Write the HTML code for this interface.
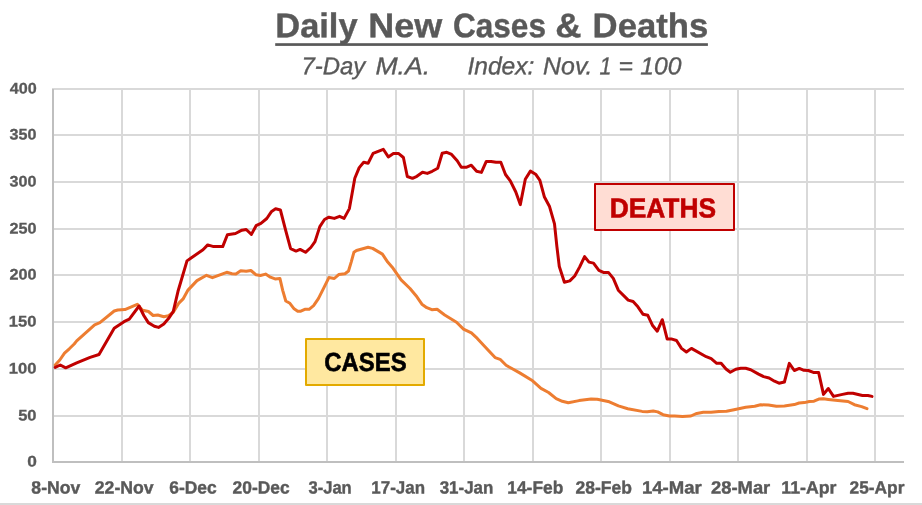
<!DOCTYPE html>
<html><head><meta charset="utf-8"><title>Daily New Cases &amp; Deaths</title>
<style>
html,body{margin:0;padding:0;background:#fff;}
body{width:922px;height:505px;overflow:hidden;position:relative;font-family:"Liberation Sans",sans-serif;}
svg{position:absolute;left:0;top:0;display:block;will-change:transform;}
text{font-family:"Liberation Sans",sans-serif;}
</style></head><body>
<svg width="922" height="505" viewBox="0 0 922 505">
<rect x="0" y="0" width="922" height="505" fill="#ffffff"/>
<rect x="0" y="503" width="922" height="2" fill="#d9d9d9"/>
<g fill="#d9d9d9" shape-rendering="crispEdges">
<rect x="52" y="88" width="852" height="2"/>
<rect x="52" y="134" width="852" height="2"/>
<rect x="52" y="181" width="852" height="2"/>
<rect x="52" y="228" width="852" height="2"/>
<rect x="52" y="274" width="852" height="2"/>
<rect x="52" y="321" width="852" height="2"/>
<rect x="52" y="368" width="852" height="2"/>
<rect x="52" y="415" width="852" height="2"/>
<rect x="121" y="88" width="2" height="374"/>
<rect x="189" y="88" width="2" height="374"/>
<rect x="258" y="88" width="2" height="374"/>
<rect x="326" y="88" width="2" height="374"/>
<rect x="395" y="88" width="2" height="374"/>
<rect x="463" y="88" width="2" height="374"/>
<rect x="532" y="88" width="2" height="374"/>
<rect x="600" y="88" width="2" height="374"/>
<rect x="669" y="88" width="2" height="374"/>
<rect x="737" y="88" width="2" height="374"/>
<rect x="806" y="88" width="2" height="374"/>
<rect x="874" y="88" width="2" height="374"/>
</g>
<g fill="#bfbfbf" shape-rendering="crispEdges">
<rect x="52" y="89" width="2" height="374"/>
<rect x="52" y="461" width="852" height="2"/>
</g>
<rect x="275.2" y="43.2" width="432.7" height="2.7" fill="#595959"/>
<text transform="rotate(0.05 275.29 37.24)" x="275.29" y="37.24" font-size="34.09px" font-weight="bold" font-style="normal" fill="#595959" stroke="#595959" stroke-width="0.4" textLength="82.25" lengthAdjust="spacingAndGlyphs">Daily</text>
<text transform="rotate(0.05 368.35 37.24)" x="368.35" y="37.24" font-size="34.09px" font-weight="bold" font-style="normal" fill="#595959" stroke="#595959" stroke-width="0.4" textLength="73.92" lengthAdjust="spacingAndGlyphs">New</text>
<text transform="rotate(0.05 453.02 37.24)" x="453.02" y="37.24" font-size="34.09px" font-weight="bold" font-style="normal" fill="#595959" stroke="#595959" stroke-width="0.4" textLength="92.93" lengthAdjust="spacingAndGlyphs">Cases</text>
<text transform="rotate(0.05 555.24 37.24)" x="555.24" y="37.24" font-size="34.09px" font-weight="bold" font-style="normal" fill="#595959" stroke="#595959" stroke-width="0.4" textLength="26.22" lengthAdjust="spacingAndGlyphs">&amp;</text>
<text transform="rotate(0.05 592.64 37.24)" x="592.64" y="37.24" font-size="34.09px" font-weight="bold" font-style="normal" fill="#595959" stroke="#595959" stroke-width="0.4" textLength="115.67" lengthAdjust="spacingAndGlyphs">Deaths</text>
<text transform="rotate(0.05 301.47 74.23)" x="301.47" y="74.23" font-size="24.49px" font-weight="normal" font-style="italic" fill="#595959" stroke="#595959" stroke-width="0.35" textLength="63.78" lengthAdjust="spacingAndGlyphs">7-Day</text>
<text transform="rotate(0.05 375.41 74.23)" x="375.41" y="74.23" font-size="24.49px" font-weight="normal" font-style="italic" fill="#595959" stroke="#595959" stroke-width="0.35" textLength="54.77" lengthAdjust="spacingAndGlyphs">M.A.</text>
<text transform="rotate(0.05 467.40 74.23)" x="467.40" y="74.23" font-size="24.49px" font-weight="normal" font-style="italic" fill="#595959" stroke="#595959" stroke-width="0.35" textLength="67.01" lengthAdjust="spacingAndGlyphs">Index:</text>
<text transform="rotate(0.05 543.12 74.23)" x="543.12" y="74.23" font-size="24.49px" font-weight="normal" font-style="italic" fill="#595959" stroke="#595959" stroke-width="0.35" textLength="49.29" lengthAdjust="spacingAndGlyphs">Nov.</text>
<text transform="rotate(0.05 599.52 74.23)" x="599.52" y="74.23" font-size="24.49px" font-weight="normal" font-style="italic" fill="#595959" stroke="#595959" stroke-width="0.35" textLength="11.97" lengthAdjust="spacingAndGlyphs">1</text>
<text transform="rotate(0.05 618.47 74.23)" x="618.47" y="74.23" font-size="24.49px" font-weight="normal" font-style="italic" fill="#595959" stroke="#595959" stroke-width="0.35" textLength="14.43" lengthAdjust="spacingAndGlyphs">=</text>
<text transform="rotate(0.05 640.21 74.23)" x="640.21" y="74.23" font-size="24.49px" font-weight="normal" font-style="italic" fill="#595959" stroke="#595959" stroke-width="0.35" textLength="41.17" lengthAdjust="spacingAndGlyphs">100</text>
<text transform="rotate(0.05 9.83 93.60)" x="9.83" y="93.60" font-size="15.28px" font-weight="bold" font-style="normal" fill="#595959" stroke="#595959" stroke-width="0.3" textLength="26.97" lengthAdjust="spacingAndGlyphs">400</text>
<text transform="rotate(0.05 9.59 139.60)" x="9.59" y="139.60" font-size="15.28px" font-weight="bold" font-style="normal" fill="#595959" stroke="#595959" stroke-width="0.3" textLength="26.92" lengthAdjust="spacingAndGlyphs">350</text>
<text transform="rotate(0.05 9.59 186.60)" x="9.59" y="186.60" font-size="15.28px" font-weight="bold" font-style="normal" fill="#595959" stroke="#595959" stroke-width="0.3" textLength="26.92" lengthAdjust="spacingAndGlyphs">300</text>
<text transform="rotate(0.05 9.57 233.60)" x="9.57" y="233.60" font-size="15.28px" font-weight="bold" font-style="normal" fill="#595959" stroke="#595959" stroke-width="0.3" textLength="27.07" lengthAdjust="spacingAndGlyphs">250</text>
<text transform="rotate(0.05 9.57 279.60)" x="9.57" y="279.60" font-size="15.28px" font-weight="bold" font-style="normal" fill="#595959" stroke="#595959" stroke-width="0.3" textLength="27.07" lengthAdjust="spacingAndGlyphs">200</text>
<text transform="rotate(0.05 8.87 326.60)" x="8.87" y="326.60" font-size="15.28px" font-weight="bold" font-style="normal" fill="#595959" stroke="#595959" stroke-width="0.3" textLength="27.69" lengthAdjust="spacingAndGlyphs">150</text>
<text transform="rotate(0.05 8.87 373.60)" x="8.87" y="373.60" font-size="15.28px" font-weight="bold" font-style="normal" fill="#595959" stroke="#595959" stroke-width="0.3" textLength="27.69" lengthAdjust="spacingAndGlyphs">100</text>
<text transform="rotate(0.05 18.20 420.60)" x="18.20" y="420.60" font-size="15.28px" font-weight="bold" font-style="normal" fill="#595959" stroke="#595959" stroke-width="0.3" textLength="18.37" lengthAdjust="spacingAndGlyphs">50</text>
<text transform="rotate(0.05 27.19 466.60)" x="27.19" y="466.60" font-size="15.28px" font-weight="bold" font-style="normal" fill="#595959" stroke="#595959" stroke-width="0.3" textLength="9.62" lengthAdjust="spacingAndGlyphs">0</text>
<text transform="rotate(0.05 31.37 493.43)" x="31.37" y="493.43" font-size="17.7px" font-weight="bold" font-style="normal" fill="#595959" stroke="#595959" stroke-width="0.4" textLength="48.86" lengthAdjust="spacingAndGlyphs">8-Nov</text>
<text transform="rotate(0.05 94.80 493.43)" x="94.80" y="493.43" font-size="17.7px" font-weight="bold" font-style="normal" fill="#595959" stroke="#595959" stroke-width="0.4" textLength="58.84" lengthAdjust="spacingAndGlyphs">22-Nov</text>
<text transform="rotate(0.05 169.19 493.43)" x="169.19" y="493.43" font-size="17.7px" font-weight="bold" font-style="normal" fill="#595959" stroke="#595959" stroke-width="0.4" textLength="47.51" lengthAdjust="spacingAndGlyphs">6-Dec</text>
<text transform="rotate(0.05 232.60 493.43)" x="232.60" y="493.43" font-size="17.7px" font-weight="bold" font-style="normal" fill="#595959" stroke="#595959" stroke-width="0.4" textLength="57.06" lengthAdjust="spacingAndGlyphs">20-Dec</text>
<text transform="rotate(0.05 308.49 493.43)" x="308.49" y="493.43" font-size="17.7px" font-weight="bold" font-style="normal" fill="#595959" stroke="#595959" stroke-width="0.4" textLength="43.23" lengthAdjust="spacingAndGlyphs">3-Jan</text>
<text transform="rotate(0.05 371.37 493.43)" x="371.37" y="493.43" font-size="17.7px" font-weight="bold" font-style="normal" fill="#595959" stroke="#595959" stroke-width="0.4" textLength="53.71" lengthAdjust="spacingAndGlyphs">17-Jan</text>
<text transform="rotate(0.05 439.67 493.43)" x="439.67" y="493.43" font-size="17.7px" font-weight="bold" font-style="normal" fill="#595959" stroke="#595959" stroke-width="0.4" textLength="53.65" lengthAdjust="spacingAndGlyphs">31-Jan</text>
<text transform="rotate(0.05 507.30 493.43)" x="507.30" y="493.43" font-size="17.7px" font-weight="bold" font-style="normal" fill="#595959" stroke="#595959" stroke-width="0.4" textLength="55.94" lengthAdjust="spacingAndGlyphs">14-Feb</text>
<text transform="rotate(0.05 575.51 493.43)" x="575.51" y="493.43" font-size="17.7px" font-weight="bold" font-style="normal" fill="#595959" stroke="#595959" stroke-width="0.4" textLength="56.38" lengthAdjust="spacingAndGlyphs">28-Feb</text>
<text transform="rotate(0.05 641.97 493.43)" x="641.97" y="493.43" font-size="17.7px" font-weight="bold" font-style="normal" fill="#595959" stroke="#595959" stroke-width="0.4" textLength="59.84" lengthAdjust="spacingAndGlyphs">14-Mar</text>
<text transform="rotate(0.05 711.09 493.43)" x="711.09" y="493.43" font-size="17.7px" font-weight="bold" font-style="normal" fill="#595959" stroke="#595959" stroke-width="0.4" textLength="59.18" lengthAdjust="spacingAndGlyphs">28-Mar</text>
<text transform="rotate(0.05 781.35 493.43)" x="781.35" y="493.43" font-size="17.7px" font-weight="bold" font-style="normal" fill="#595959" stroke="#595959" stroke-width="0.4" textLength="55.18" lengthAdjust="spacingAndGlyphs">11-Apr</text>
<text transform="rotate(0.05 849.59 493.43)" x="849.59" y="493.43" font-size="17.7px" font-weight="bold" font-style="normal" fill="#595959" stroke="#595959" stroke-width="0.4" textLength="54.86" lengthAdjust="spacingAndGlyphs">25-Apr</text>
<polyline fill="none" stroke="#ed7d31" stroke-width="3" stroke-linejoin="round" stroke-linecap="round" points="55.2,365 59.8,360 64.5,353.2 69.3,348.8 74.2,344 76.7,340.9 94.6,324.8 99.9,322.6 114.2,311 117.7,310 124.9,309.6 137.3,304.3 139.5,307 142.7,310.3 148.5,311.5 153.1,315.5 157.8,315 163.8,316.7 168.5,315.7 173.3,312.2 178.6,303.4 183.1,298.9 188,290.1 197,280.6 206.5,275.3 212.4,277.7 226.7,272.3 232,273.8 235.9,274.1 240.7,270.8 246.2,271.3 250.9,270.5 256.1,274.8 260.4,275.5 265.6,274.1 270.4,277.2 275.1,278.9 279.9,278.4 282.7,290.3 285.8,301 289.9,303.3 294.1,308.8 297.7,311.2 300.8,311.2 304.8,309.3 309.1,309.3 313.6,305.7 318.4,298.6 323.8,287.9 328.9,277.6 334.3,278.5 338.7,274.6 345,273.7 348.5,271 351.2,262.1 353.9,252.3 356.5,250.5 368.1,247.3 372.6,248.4 382.4,254.1 387.7,262.1 393.1,268.3 401.1,279.9 410,288.5 416.9,296.8 421.9,304.2 426.8,307.7 431.8,309.7 437.1,309.3 444.7,315 456.5,322.2 463.5,329.1 471.4,332.9 477.3,338.4 485.2,346.9 495.1,357.6 500.1,359.3 506.1,365.3 519.7,372.9 532.6,380.8 541,388.4 548.6,392.5 556.2,398.6 562.3,401.3 568.3,402.8 579,400.6 591.1,399 597.2,399.3 609.3,401.8 618.4,405.9 627.8,408.7 642.1,411.4 647.3,411.7 653.2,411 657.7,411.9 663,414.7 669.5,416 674.7,416 682.5,416.5 690.9,416 696.8,413.4 703.3,412.3 711.1,412.3 718.9,411.4 726.5,411.3 734,409.7 745.7,407.3 754.7,406.3 760.6,404.8 768.5,405 776.4,406.3 784.4,405.9 794.3,404.6 799.1,403 804.4,402.6 809.3,401.5 814,401.2 818.8,399.1 823.5,398.8 828.3,399.4 837.8,400.4 848.1,401.5 854.4,404.7 861.6,406.6 867,408.7"/>
<polyline fill="none" stroke="#c00000" stroke-width="3" stroke-linejoin="round" stroke-linecap="round" points="55.2,367.4 60.3,365 65.7,367.8 76.7,362.9 90.1,357.4 99,354.5 114.2,328.3 124,321.7 129.3,319.1 139.1,306 143.8,315.5 148.3,322.6 154.3,326.2 158.5,327.4 163.8,324 168.5,318.6 173.3,311.4 178,291.3 187,260.9 191.1,258 203,249.7 207.7,244.9 213.6,246.6 222.7,246.6 227.4,234.7 235.5,233.5 241.9,230.2 246.2,229.5 251.4,234.4 256.1,225.7 260.9,223.3 266.8,218.5 271.6,211.4 275.6,208.8 280.4,210 285.8,230.9 290.6,248.7 296,251.1 300.1,249.4 305.5,252.3 310.8,247.5 315,241.6 319.8,226.6 324.5,219.5 328.9,217.2 334.3,218.4 339.6,216.3 344.1,218.4 349.4,208.6 352.1,193.5 354.8,178.3 359.2,167.6 363.7,162.3 368.1,163.2 373.1,153.4 383.3,149.3 388.3,156.9 393.4,153.4 398.4,153.4 403.4,157.5 407.3,176.5 412.5,178.3 416.9,176.3 422.5,172.2 427.3,173.4 432.2,171.3 437.7,168.3 442.2,153.3 446.8,152.3 451.6,154.4 457.2,160.7 461.3,167.3 466.2,167.3 471.3,165.2 476.6,171.3 481.4,172.4 486.3,161.4 491.1,161.4 496,162.3 500.8,162.3 505.5,174.5 510.3,180.9 515.8,192 520.3,204.6 525.3,179.3 530.4,171.1 535.6,174.2 539.9,180.4 544.3,196.7 549.4,206.2 554.5,223.9 556.9,246.7 559.3,266.5 564.4,282.3 569.8,280.9 574.7,276 579.7,266.9 584.6,256.6 589,262.1 593.5,263.1 598.9,270.4 603.4,272.4 608.4,272.4 613.3,278.4 618.3,290.2 628.2,300.1 633.1,301.5 637.9,306.8 642.9,314.2 647.8,315.3 652.4,325.2 657.3,331.2 662.3,319.7 667.2,339.1 672,339.1 676.5,340.5 681.5,348.4 686.4,352 691.4,348.4 706.2,356.7 711.2,358.7 716.7,363.3 721.1,363.3 726,369 730.3,372.3 735.8,369.3 740.8,368.3 745.7,368.3 750.7,369.7 758.6,374.1 763.6,376.6 769.1,378 774.5,381.2 779,383.2 784.4,382 789.3,363.4 794.3,370.5 799.3,368.4 803.9,370.3 808.3,370.5 813.4,372.4 818.6,372.4 823.5,394.4 828.3,388.5 833.5,396.4 842.5,394.4 848.1,393.3 852.9,393.3 862.4,395.5 867.9,395.5 872,396.4"/>
<rect x="595" y="184" width="139" height="46" fill="#ffddd4" stroke="#c00000" stroke-width="2" stroke-linejoin="round"/>
<text transform="rotate(0.05 609.66 217.45)" x="609.66" y="217.45" font-size="27.62px" font-weight="bold" font-style="normal" fill="#c00000" stroke="#c00000" stroke-width="0.6" textLength="106.40" lengthAdjust="spacingAndGlyphs">DEATHS</text>
<rect x="306" y="339" width="118" height="46" fill="#ffe8a0" stroke="#e3aa00" stroke-width="2" stroke-linejoin="round"/>
<text transform="rotate(0.05 324.29 370.91)" x="324.29" y="370.91" font-size="26.13px" font-weight="bold" font-style="normal" fill="#000000" stroke="#000000" stroke-width="0.6" textLength="82.31" lengthAdjust="spacingAndGlyphs">CASES</text>
</svg>
</body></html>
